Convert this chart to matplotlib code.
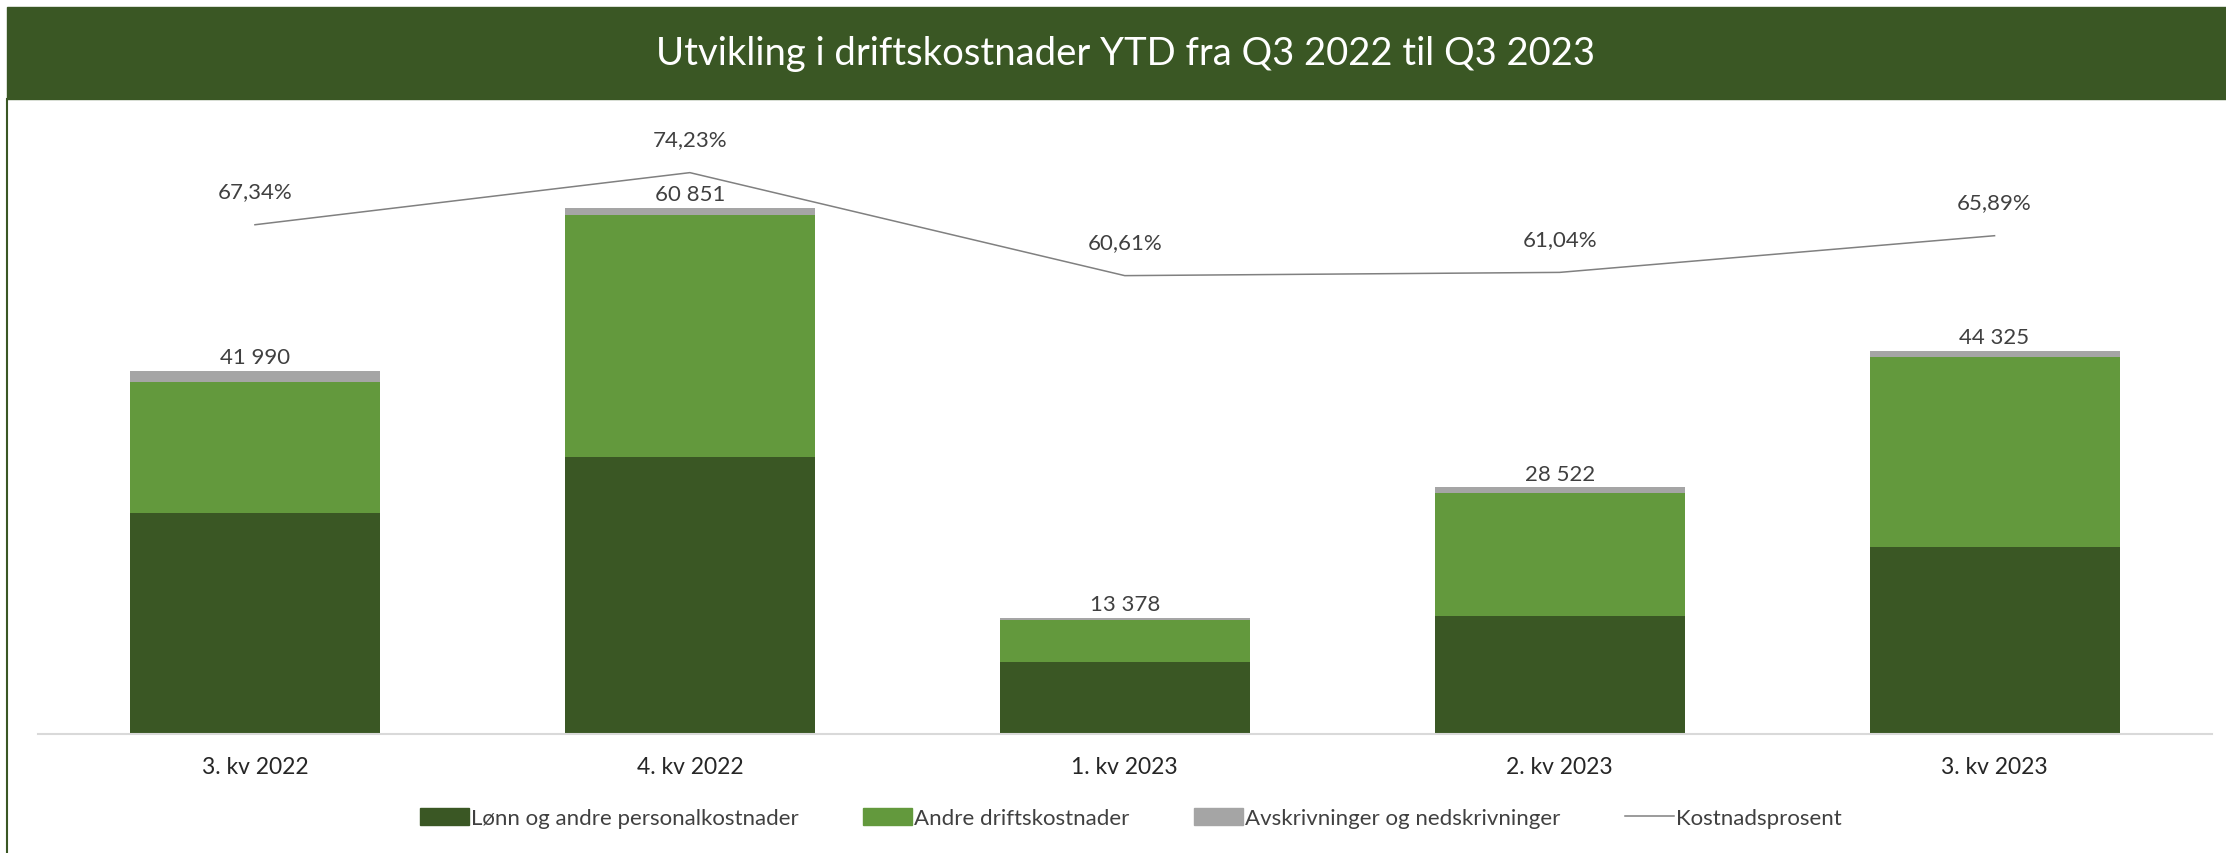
import matplotlib.pyplot as plt
import numpy as np
from matplotlib.patches import Patch, Rectangle
from matplotlib.lines import Line2D

plt.rcParams['font.family'] = ['Lato', 'DejaVu Sans']

# data (NOK 1000)
kvartaler = ['3. kv 2022', '4. kv 2022', '1. kv 2023', '2. kv 2023', '3. kv 2023']
lonn = [25570, 32050, 8300, 13620, 21650]
andre = [15150, 27990, 4850, 14320, 21980]
avskr = [1270, 811, 228, 582, 695]
totalt = [41990, 60851, 13378, 28522, 44325]
kostnadsprosent = [67.34, 74.23, 60.61, 61.04, 65.89]

MORK = '#3A5724'
LYS = '#63993D'
GRA = '#A5A5A5'
TEKST = '#404040'

fig = plt.figure(figsize=(22.26, 8.54), dpi=100)
W, H = 2226, 854

# title band
fig.patches.append(Rectangle((7 / W, 1 - 100 / H), 1 - 7 / W, 92 / H,
                             transform=fig.transFigure, color=MORK, zorder=0))
fig.text(1125 / W, 1 - 54 / H, 'Utvikling i driftskostnader YTD fra Q3 2022 til Q3 2023',
         ha='center', va='center', color='white', fontsize=27.5)
# left frame line
fig.add_artist(Line2D([7 / W, 7 / W], [0, 1 - 100 / H], transform=fig.transFigure,
                      color=MORK, linewidth=1.5))

ax = fig.add_axes([37.5 / W, 1 - 735 / H, (2212 - 37.5) / W, 605 / H])
x = np.arange(len(kvartaler))
bw = 0.575
b1 = np.array(lonn)
b2 = b1 + np.array(andre)
ax.bar(x, lonn, bw, color=MORK, zorder=2)
ax.bar(x, andre, bw, bottom=b1, color=LYS, zorder=2)
ax.bar(x, avskr, bw, bottom=b2, color=GRA, zorder=2)
ax.set_xlim(-0.5, 4.5)
ax.set_ylim(0, 70000)

for xi, t in zip(x, totalt):
    lbl = f'{t:,}'.replace(',', ' ')
    ax.annotate(lbl, (xi, t), xytext=(0, 10), textcoords='offset points',
                ha='center', va='center', fontsize=16, color=TEKST)

for s in ['top', 'right', 'left']:
    ax.spines[s].set_visible(False)
ax.spines['bottom'].set_color('#D9D9D9')
ax.spines['bottom'].set_linewidth(1.5)
ax.set_yticks([])
ax.set_xticks(x)
ax.set_xticklabels(kvartaler, fontsize=16.5, color='#262626')
ax.tick_params(axis='x', length=0, pad=16)

ax2 = ax.twinx()
ax2.set_ylim(0, 80)
ax2.plot(x, kostnadsprosent, color='#808080', linewidth=1.1, zorder=3)
for xi, p in zip(x, kostnadsprosent):
    ax2.annotate(f'{p:.2f}%'.replace('.', ','), (xi, p), xytext=(0, 24),
                 textcoords='offset points', ha='center', va='center',
                 fontsize=16, color=TEKST)
ax2.set_yticks([])
for s in ax2.spines.values():
    s.set_visible(False)

handles = [Patch(color=MORK, label='Lønn og andre personalkostnader'),
           Patch(color=LYS, label='Andre driftskostnader'),
           Patch(color=GRA, label='Avskrivninger og nedskrivninger'),
           Line2D([], [], color='#808080', linewidth=1.1, label='Kostnadsprosent')]
leg = fig.legend(handles=handles, loc='center', bbox_to_anchor=(1131 / W, 1 - 819 / H),
                 ncol=4, frameon=False, fontsize=16, handlelength=2.2, handleheight=0.8,
                 handletextpad=0.1, columnspacing=2.9)
for t in leg.get_texts():
    t.set_color(TEKST)

fig.savefig('out.png', dpi=100, facecolor='white')
